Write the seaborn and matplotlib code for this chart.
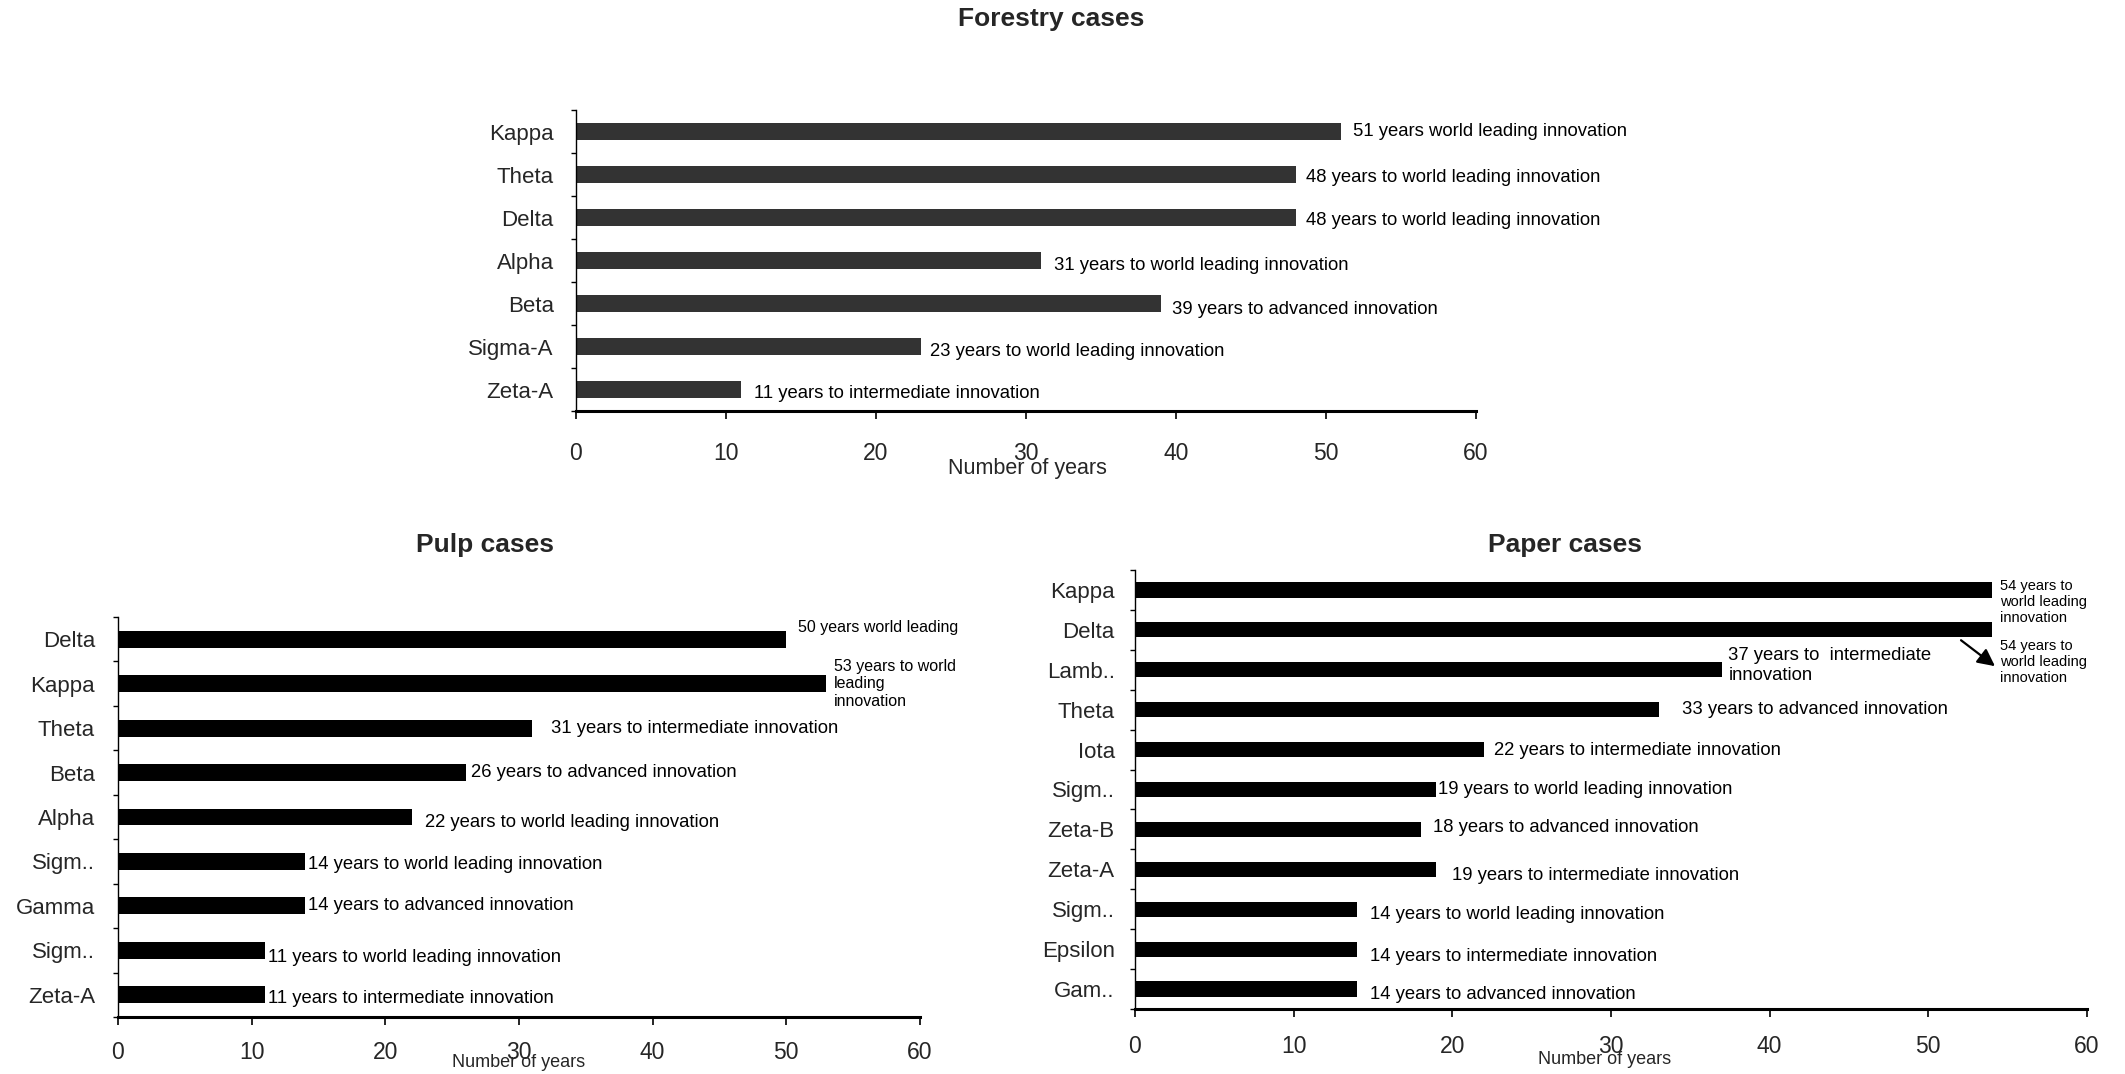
import matplotlib
matplotlib.use("Agg")
import matplotlib.pyplot as plt
import numpy as np
import pandas as pd
import seaborn as sns

# ---- data -------------------------------------------------------------
forestry_cases = ["Kappa", "Theta", "Delta", "Alpha", "Beta", "Sigma-A", "Zeta-A"]
forestry_years = [51, 48, 48, 31, 39, 23, 11]
forestry_text = [" years world leading innovation",
                 " years to world leading innovation",
                 " years to world leading innovation",
                 " years to world leading innovation",
                 " years to advanced innovation",
                 " years to world leading innovation",
                 " years to intermediate innovation"]

pulp_cases = ["Delta", "Kappa", "Theta", "Beta", "Alpha", "Sigm..", "Gamma", "Sigm..", "Zeta-A"]
pulp_years = [50, 53, 31, 26, 22, 14, 14, 11, 11]
pulp_text = [" years world leading",
             " years to world\nleading\ninnovation",
             " years to intermediate innovation",
             " years to advanced innovation",
             " years to world leading innovation",
             " years to world leading innovation",
             " years to advanced innovation",
             " years to world leading innovation",
             " years to intermediate innovation"]

paper_cases = ["Kappa", "Delta", "Lamb..", "Theta", "Iota", "Sigm..", "Zeta-B",
               "Zeta-A", "Sigm..", "Epsilon", "Gam.."]
paper_years = [54, 54, 37, 33, 22, 19, 18, 19, 14, 14, 14]
paper_text = [" years to\nworld leading\ninnovation",
              " years to\nworld leading\ninnovation",
              " years to  intermediate\ninnovation",
              " years to advanced innovation",
              " years to intermediate innovation",
              " years to world leading innovation",
              " years to advanced innovation",
              " years to intermediate innovation",
              " years to world leading innovation",
              " years to intermediate innovation",
              " years to advanced innovation"]

x_ticks = [0, 10, 20, 30, 40, 50, 60]
x_label = "Number of years"

# ---- label placement (offsets in data / category units) -----------------
forestry_dx = [0.8, 0.7, 0.7, 0.9, 0.75, 0.6, 0.85]
forestry_dy = [0.0, 0.08, 0.07, 0.11, 0.14, 0.11, 0.10]
forestry_va = ["center"] * 7
forestry_fs = [13.3] * 7

pulp_dx = [0.9, 0.55, 1.4, 0.4, 1.0, 0.2, 0.2, 0.2, 0.2]
pulp_dy = [-0.27, -0.56, 0.0, 0.0, 0.13, 0.06, 0.0, 0.15, 0.08]
pulp_va = ["center", "top"] + ["center"] * 7
pulp_fs = [11.5, 11.5] + [13.3] * 7

paper_dx = [0.5, 0.5, 0.4, 1.5, 0.6, 0.1, 0.8, 1.0, 0.8, 0.8, 0.8]
paper_dy = [-0.28, 0.23, -0.1, 0.0, 0.03, 0.0, -0.05, 0.16, 0.13, 0.18, 0.13]
paper_va = ["top", "top"] + ["center"] * 9
paper_fs = [10.5, 10.5] + [13.3] * 9

# ---- style ------------------------------------------------------------
sns.set_style("white")
plt.rcParams["font.family"] = ["Liberation Sans", "DejaVu Sans"]

W, H = 2125, 1074
fig = plt.figure(figsize=(W / 100, H / 100), dpi=100)


def px_axes(left, top, right, bottom):
    return fig.add_axes([left / W, 1 - bottom / H, (right - left) / W, (bottom - top) / H])


def panel(ax, cases, years, texts, dx, dy, va, fs, color,
          xpad, ypad, xlabel_pos, xlabel_fs):
    n = len(cases)
    df = pd.DataFrame({"row": np.arange(n), "years": years})
    sns.barplot(data=df, x="years", y="row", orient="h", ax=ax, color=color,
                saturation=1, width=0.38, errorbar=None, linewidth=0)
    ax.set_xlim(0, 60)
    ax.set_ylim(n - 0.5, -0.5)
    ax.set_xticks(x_ticks)
    ax.set_xticklabels([str(t) for t in x_ticks], fontsize=16.5)
    ax.set_yticks(np.arange(n))
    ax.set_yticklabels(cases, fontsize=16)
    ax.set_yticks(np.arange(n + 1) - 0.5, minor=True)
    ax.tick_params(axis="y", which="major", length=0, pad=ypad)
    ax.tick_params(axis="y", which="minor", direction="out", length=3.6,
                   width=1, color="black", left=True)
    ax.tick_params(axis="x", which="major", direction="out", length=5.5,
                   width=1.2, color="black", pad=xpad, bottom=True)
    for side in ("top", "right"):
        ax.spines[side].set_visible(False)
    ax.spines["left"].set_color("black")
    ax.spines["left"].set_linewidth(1.0)
    ax.spines["bottom"].set_color("black")
    ax.spines["bottom"].set_linewidth(2.2)
    ax.set_ylabel("")
    ax.set_xlabel(x_label, fontsize=xlabel_fs)
    ax.xaxis.set_label_coords(*xlabel_pos)
    for i, (v, t) in enumerate(zip(years, texts)):
        ax.text(v + dx[i], i + dy[i], f"{v}{t}", ha="left", va=va[i],
                fontsize=fs[i], color="black")
    return ax


# Forestry
ax1 = px_axes(576, 110, 1476, 411)
panel(ax1, forestry_cases, forestry_years, forestry_text, forestry_dx, forestry_dy,
      forestry_va, forestry_fs, "#333333", xpad=17, ypad=16,
      xlabel_pos=(0.502, -0.155), xlabel_fs=15.5)

# Pulp
ax2 = px_axes(118, 617, 920, 1017)
panel(ax2, pulp_cases, pulp_years, pulp_text, pulp_dx, pulp_dy,
      pulp_va, pulp_fs, "black", xpad=12, ypad=16.5,
      xlabel_pos=(0.5, -0.092), xlabel_fs=13)

# Paper
ax3 = px_axes(1135, 570, 2087, 1009)
panel(ax3, paper_cases, paper_years, paper_text, paper_dx, paper_dy,
      paper_va, paper_fs, "black", xpad=13, ypad=14.5,
      xlabel_pos=(0.493, -0.096), xlabel_fs=13)
ax3.annotate("", xy=(54.2, 1.91), xytext=(52.06, 1.26),
             arrowprops=dict(arrowstyle="-|>", color="black", lw=1.6,
                             mutation_scale=26, shrinkA=0, shrinkB=0))

# Panel titles
fig.text(1051 / W, 1 - 19 / H, "Forestry cases", ha="center", va="center",
         fontsize=19, fontweight="bold")
fig.text(485 / W, 1 - 545 / H, "Pulp cases", ha="center", va="center",
         fontsize=19, fontweight="bold")
fig.text(1565 / W, 1 - 545 / H, "Paper cases", ha="center", va="center",
         fontsize=19, fontweight="bold")

fig.savefig("out.png", dpi=100, facecolor="white")
